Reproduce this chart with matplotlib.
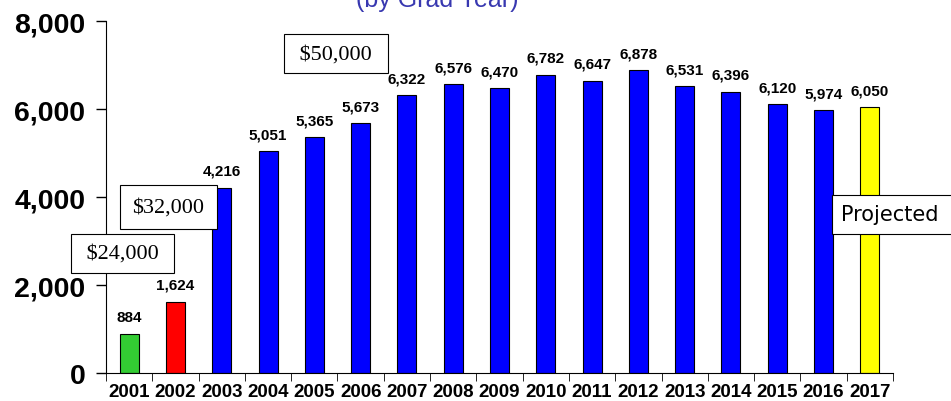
import matplotlib.pyplot as plt

years = ["2001", "2002", "2003", "2004", "2005", "2006", "2007", "2008", "2009",
         "2010", "2011", "2012", "2013", "2014", "2015", "2016", "2017"]
counts = [884, 1624, 4216, 5051, 5365, 5673, 6322, 6576, 6470,
          6782, 6647, 6878, 6531, 6396, 6120, 5974, 6050]
colors = ["#33cc33", "#ff0000"] + ["#0000ff"] * 14 + ["#ffff00"]
yticks = [0, 2000, 4000, 6000, 8000]

fig = plt.figure(figsize=(9.51, 4.02), dpi=100)
ax = fig.add_axes([0.1115, 0.0697, 0.8275, 0.8753])

x = list(range(len(years)))
bars = ax.bar(x, counts, width=0.41, color=colors, edgecolor="black", linewidth=0.8)

for b, v in zip(bars, counts):
    ax.annotate(f"{v:,}", (b.get_x() + b.get_width() / 2, v), xytext=(0, 7),
                textcoords="offset points", ha="center", va="bottom",
                fontsize=11, fontweight="bold", family="Liberation Sans")

ax.set_xlim(-0.5, len(years) - 0.5)
ax.set_ylim(0, 8000)
ax.set_yticks(yticks)
ax.set_yticklabels([f"{t:,}" for t in yticks], fontsize=20.5, fontweight="bold",
                   family="Liberation Sans")
ax.set_xticks(x)
ax.set_xticklabels(years, fontsize=13.5, fontweight="bold", family="Liberation Sans")
ax.tick_params(axis="x", length=0, pad=7)
ax.set_xticks([i - 0.5 for i in range(len(years) + 1)], minor=True)
ax.tick_params(axis="x", which="minor", length=6, direction="out")
ax.tick_params(axis="y", length=7, width=1, pad=8)
for s in ["top", "right"]:
    ax.spines[s].set_visible(False)

box = dict(boxstyle="square,pad=0.45", facecolor="white", edgecolor="black", linewidth=0.8)
ax.text(4.47, 7260, " $50,000 ", fontsize=16, family="Liberation Serif",
        ha="center", va="center", bbox=box)
ax.text(0.85, 3770, "$32,000", fontsize=16, family="Liberation Serif",
        ha="center", va="center", bbox=dict(box, boxstyle="square,pad=0.55"))
ax.text(-0.14, 2716, " $24,000 ", fontsize=16, family="Liberation Serif",
        ha="center", va="center", bbox=box)
ax.text(15.38, 3604, "Projected     ", fontsize=15, family="DejaVu Sans",
        ha="left", va="center", bbox=box, clip_on=False)

fig.text(0.46, 0.983, "(by Grad Year)", fontsize=18, color="#3838b0",
         ha="center", va="baseline", family="Liberation Sans")

fig.savefig("out.png", dpi=100)
